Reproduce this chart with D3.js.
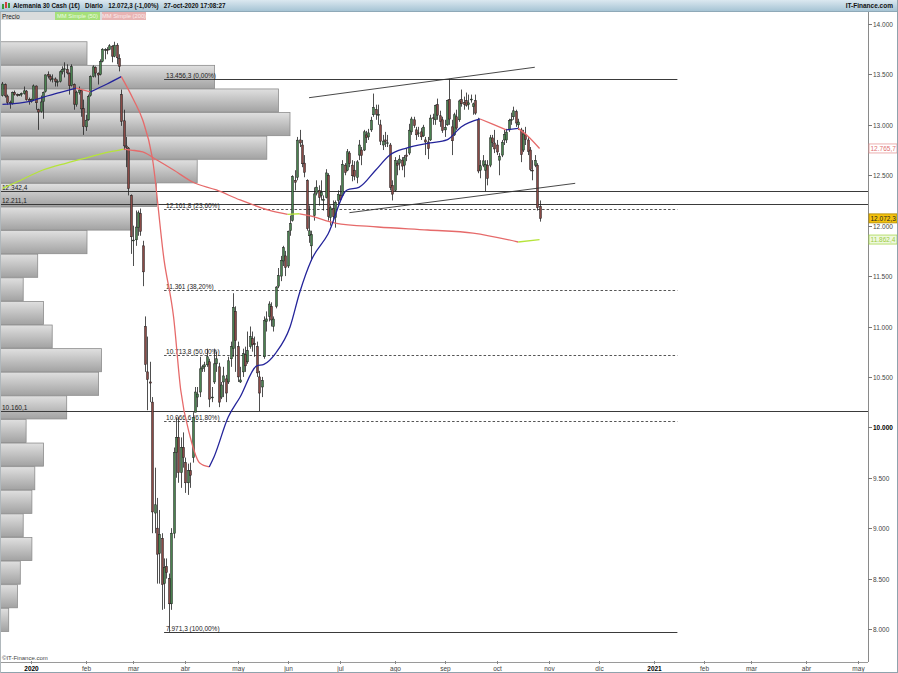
<!DOCTYPE html>
<html><head><meta charset="utf-8">
<script src="https://cdn.jsdelivr.net/npm/d3@7"></script>
<style>body{margin:0;background:#fff}svg{display:block}text{font-family:"Liberation Sans",Arial,sans-serif}</style>
</head><body><svg id="c" width="898" height="673"></svg>
<script>
// ---------- DATA ----------
const title = "Alemania 30 Cash (1€)   Diario   12.072,3 (-1,00%)   27-oct-2020 17:08:27";
const candles = [
["2019-12-16",13290,13425,13280,13405],["2019-12-17",13400,13410,13270,13287],["2019-12-18",13285,13300,13200,13222],
["2019-12-19",13220,13240,13160,13211],["2019-12-20",13215,13330,13200,13319],["2019-12-23",13320,13340,13290,13300],
["2019-12-24",13300,13310,13280,13295],["2019-12-25",13295,13305,13285,13300],["2019-12-26",13300,13320,13280,13310],
["2019-12-27",13310,13380,13300,13337],["2019-12-30",13335,13345,13240,13249],["2019-12-31",13250,13270,13200,13230],
["2020-01-01",13230,13260,13220,13250],["2020-01-02",13250,13400,13240,13386],["2020-01-03",13385,13390,13150,13219],
["2020-01-06",13150,13160,12950,13127],["2020-01-07",13130,13290,13120,13227],["2020-01-08",13230,13330,13060,13321],
["2020-01-09",13330,13500,13320,13495],["2020-01-10",13500,13530,13460,13483],["2020-01-13",13480,13500,13430,13452],
["2020-01-14",13450,13500,13420,13457],["2020-01-15",13455,13470,13380,13432],["2020-01-16",13430,13450,13380,13430],
["2020-01-17",13430,13540,13420,13526],["2020-01-20",13525,13580,13500,13549],["2020-01-21",13550,13620,13470,13556],
["2020-01-22",13550,13600,13500,13515],["2020-01-23",13510,13520,13300,13389],["2020-01-24",13390,13600,13380,13577],
["2020-01-27",13400,13410,13150,13205],["2020-01-28",13200,13340,13180,13324],["2020-01-29",13320,13380,13300,13345],
["2020-01-30",13340,13350,13080,13158],["2020-01-31",13160,13250,12900,12982],["2020-02-03",12980,13100,12940,13046],
["2020-02-04",13050,13300,13040,13282],["2020-02-05",13290,13490,13280,13479],["2020-02-06",13480,13590,13470,13575],
["2020-02-07",13570,13580,13470,13514],["2020-02-10",13510,13520,13400,13494],["2020-02-11",13500,13650,13490,13628],
["2020-02-12",13630,13760,13620,13750],["2020-02-13",13740,13760,13650,13745],["2020-02-14",13745,13770,13700,13744],
["2020-02-17",13745,13800,13740,13784],["2020-02-18",13780,13790,13620,13681],["2020-02-19",13680,13824,13670,13790],
["2020-02-20",13790,13810,13600,13665],["2020-02-21",13660,13700,13530,13579],["2020-02-24",13300,13350,12990,13035],
["2020-02-25",13040,13150,12750,12791],["2020-02-26",12790,12880,12580,12775],["2020-02-27",12770,12780,12300,12367],
["2020-02-28",12300,12310,11720,11890],["2020-03-02",11850,12000,11600,11857],["2020-03-03",11860,12150,11800,11986],
["2020-03-04",11980,12150,11900,12128],["2020-03-05",12120,12170,11900,11944],["2020-03-06",11800,11850,11400,11542],
["2020-03-09",11000,11100,10550,10625],["2020-03-10",10550,10900,10170,10475],["2020-03-11",10450,10650,10250,10439],
["2020-03-12",10250,10300,8950,9161],["2020-03-13",9150,9600,8950,9232],["2020-03-16",9000,9300,8450,8742],
["2020-03-17",8750,9180,8450,8939],["2020-03-18",8900,8950,8190,8441],["2020-03-19",8450,8700,8200,8610],
["2020-03-20",8620,8700,8500,8560],["2020-03-23",8500,8550,7971.3,8250],["2020-03-24",8250,9000,8190,8950],
["2020-03-25",8950,9800,8900,9750],["2020-03-26",9750,10100,9500,9900],["2020-03-27",9900,10100,9450,9550],
["2020-03-30",9550,9900,9400,9800],["2020-03-31",9800,9950,9600,9700],["2020-04-01",9650,9700,9350,9450],
["2020-04-02",9450,9640,9330,9570],["2020-04-03",9570,9650,9400,9525],["2020-04-06",9700,10150,9650,10100],
["2020-04-07",10150,10400,10150,10350],["2020-04-08",10300,10400,10200,10330],["2020-04-09",10350,10700,10300,10580],
["2020-04-10",10580,10620,10550,10600],["2020-04-13",10600,10650,10550,10620],["2020-04-14",10620,10780,10600,10700],
["2020-04-15",10650,10680,10200,10280],["2020-04-16",10300,10400,10250,10300],["2020-04-17",10450,10780,10430,10630],
["2020-04-20",10630,10750,10550,10680],["2020-04-21",10600,10640,10200,10250],["2020-04-22",10300,10450,10280,10420],
["2020-04-23",10450,10600,10300,10510],["2020-04-24",10480,10520,10250,10340],["2020-04-27",10450,10700,10430,10660],
["2020-04-28",10680,10850,10600,10800],["2020-04-29",10780,11330,10700,11190],["2020-04-30",11150,11200,10550,10860],
["2020-05-01",10800,10850,10450,10500],["2020-05-04",10450,10600,10440,10470],["2020-05-05",10550,10780,10500,10730],
["2020-05-06",10720,10800,10550,10610],["2020-05-07",10650,10950,10630,10760],["2020-05-08",10800,11000,10780,10900],
["2020-05-11",10880,10950,10750,10820],["2020-05-12",10830,10900,10700,10820],["2020-05-13",10800,10850,10500,10540],
["2020-05-14",10500,10560,10160.1,10340],["2020-05-15",10400,10500,10300,10465],["2020-05-18",10700,11100,10680,11058],
["2020-05-19",11050,11150,10950,11075],["2020-05-20",11100,11250,11050,11223],["2020-05-21",11200,11240,11000,11065],
["2020-05-22",11000,11100,10950,11074],["2020-05-25",11200,11400,11180,11391],["2020-05-26",11400,11580,11380,11504],
["2020-05-27",11500,11700,11450,11657],["2020-05-28",11650,11800,11600,11781],["2020-05-29",11700,11750,11500,11587],
["2020-06-01",11600,11950,11580,11945],["2020-06-02",11950,12100,11900,12021],["2020-06-03",12050,12500,12040,12487],
["2020-06-04",12450,12550,12350,12431],["2020-06-05",12480,12880,12450,12848],["2020-06-08",12850,12950,12780,12820],
["2020-06-09",12800,12850,12580,12614],["2020-06-10",12620,12700,12480,12530],["2020-06-11",12450,12460,11950,11970],
["2020-06-12",11900,12200,11830,11949],["2020-06-15",11800,11950,11650,11911],["2020-06-16",12100,12380,12050,12315],
["2020-06-17",12320,12450,12300,12382],["2020-06-18",12350,12400,12200,12281],["2020-06-19",12300,12450,12250,12331],
["2020-06-22",12250,12300,12150,12262],["2020-06-23",12280,12560,12270,12523],["2020-06-24",12500,12520,12050,12093],
["2020-06-25",12080,12200,12000,12177],["2020-06-26",12170,12250,12050,12089],["2020-06-29",12080,12250,11980,12232],
["2020-06-30",12250,12350,12200,12311],["2020-07-01",12300,12400,12250,12260],["2020-07-02",12300,12650,12290,12608],
["2020-07-03",12600,12620,12500,12528],["2020-07-06",12550,12760,12540,12733],["2020-07-07",12720,12740,12580,12616],
["2020-07-08",12600,12650,12440,12495],["2020-07-09",12550,12640,12450,12489],["2020-07-10",12480,12650,12420,12633],
["2020-07-13",12700,12850,12650,12800],["2020-07-14",12750,12780,12600,12697],["2020-07-15",12750,12950,12740,12931],
["2020-07-16",12900,12940,12820,12874],["2020-07-17",12880,12960,12850,12920],["2020-07-20",12950,13080,12930,13046],
["2020-07-21",13100,13310,13080,13171],["2020-07-22",13150,13200,13050,13104],["2020-07-23",13100,13200,13000,13103],
["2020-07-24",13000,13050,12800,12838],["2020-07-27",12800,12900,12750,12839],["2020-07-28",12850,12930,12780,12836],
["2020-07-29",12820,12900,12780,12822],["2020-07-30",12800,12820,12350,12379],["2020-07-31",12400,12450,12250,12313],
["2020-08-03",12350,12680,12340,12647],["2020-08-04",12620,12650,12500,12600],["2020-08-05",12620,12700,12550,12660],
["2020-08-06",12650,12680,12550,12591],["2020-08-07",12600,12700,12480,12674],["2020-08-10",12700,12770,12640,12687],
["2020-08-11",12720,13010,12700,12947],["2020-08-12",12930,13080,12900,13058],["2020-08-13",13050,13080,12970,12993],
["2020-08-14",12950,12980,12850,12901],["2020-08-17",12920,12980,12880,12920],["2020-08-18",12930,12970,12850,12881],
["2020-08-19",12890,13000,12880,12977],["2020-08-20",12850,12880,12700,12830],["2020-08-21",12830,12880,12660,12764],
["2020-08-24",12850,13100,12840,13067],["2020-08-25",13070,13110,13000,13062],["2020-08-26",13050,13200,13000,13190],
["2020-08-27",13200,13260,13050,13096],["2020-08-28",13090,13140,12980,13033],["2020-08-31",13050,13080,12920,12945],
["2020-09-01",12950,13050,12880,12974],["2020-09-02",13000,13250,12990,13243],["2020-09-03",13250,13456.3,13000,13057],
["2020-09-04",12980,13050,12700,12842],["2020-09-07",12900,13120,12890,13100],["2020-09-08",13080,13150,12950,12968],
["2020-09-09",13050,13250,13030,13237],["2020-09-10",13250,13350,13180,13209],["2020-09-11",13220,13280,13150,13202],
["2020-09-14",13240,13320,13180,13194],["2020-09-15",13200,13300,13150,13218],["2020-09-16",13250,13300,13220,13255],
["2020-09-17",13180,13220,13100,13208],["2020-09-18",13240,13300,13100,13116],["2020-09-21",13050,13070,12520,12542],
["2020-09-22",12550,12650,12470,12594],["2020-09-23",12600,12700,12580,12643],["2020-09-24",12550,12650,12340,12606],
["2020-09-25",12600,12650,12400,12469],["2020-09-28",12600,12900,12580,12871],["2020-09-29",12870,12900,12780,12826],
["2020-09-30",12820,12950,12720,12761],["2020-10-01",12800,12850,12700,12731],["2020-10-02",12650,12720,12500,12689],
["2020-10-05",12700,12850,12680,12828],["2020-10-06",12850,12950,12800,12906],["2020-10-07",12850,12960,12820,12928],
["2020-10-08",12950,13060,12930,13042],["2020-10-09",13050,13120,13000,13051],["2020-10-12",13080,13180,13050,13139],
["2020-10-13",13130,13150,12980,13018],["2020-10-14",13000,13060,12950,13028],["2020-10-15",12950,12970,12630,12704],
["2020-10-16",12750,12950,12730,12909],["2020-10-19",12900,12980,12800,12854],["2020-10-20",12850,12880,12700,12736],
["2020-10-21",12750,12780,12540,12558],["2020-10-22",12550,12650,12450,12543],["2020-10-23",12600,12700,12580,12646],
["2020-10-26",12600,12620,12150,12178],["2020-10-27",12190,12250,12040,12072.3]
];
// moving average readings (date, value)
const ma50 = [["2019-12-16",13202],["2020-01-01",13236],["2020-01-07",13266],["2020-01-17",13320],["2020-01-28",13365],
["2020-02-05",13326],["2020-02-14",13405],["2020-02-24",13478],["2020-03-02",13256],["2020-03-06",13048],["2020-03-12",12681],
["2020-03-19",11659],["2020-03-25",11094],["2020-03-30",10370],["2020-04-03",9904],["2020-04-09",9646],["2020-04-15",9607],
["2020-04-17",9706],["2020-04-27",10102],["2020-05-04",10301],["2020-05-13",10610],["2020-05-18",10625],["2020-05-25",10737],
["2020-06-02",10995],["2020-06-08",11332],["2020-06-15",11659],["2020-06-24",11917],["2020-07-06",12354],["2020-07-13",12380],
["2020-07-22",12550],["2020-07-30",12701],["2020-08-10",12770],["2020-08-24",12820],["2020-09-02",12850],["2020-09-10",12979],
["2020-09-22",13058],["2020-09-29",13010],["2020-10-07",12950],["2020-10-14",12965],["2020-10-20",12890],["2020-10-27",12765.7]];
const ma200 = [["2019-12-16",12370],["2019-12-24",12433],["2020-01-08",12552],["2020-01-22",12621],["2020-02-03",12671],
["2020-02-17",12731],["2020-02-25",12760],["2020-02-28",12750],["2020-03-06",12731],["2020-03-16",12651],["2020-03-25",12552],
["2020-04-06",12433],["2020-04-20",12354],["2020-05-04",12255],["2020-05-20",12155],["2020-06-01",12112],["2020-06-08",12118],
["2020-06-12",12100],["2020-06-29",12026],["2020-07-23",11987],["2020-08-21",11957],["2020-09-17",11927],["2020-10-14",11838],
["2020-10-27",11862.4]];
// volume profile, relative volume per price band (top band first)
const profile = [30,74,96,100,92,68,54,45,30,13,8,15,18,35,34,23,9,15,12,11,8,11,7,6,3];
// Fibonacci retracement
const fibHigh = 13456.3, fibLow = 7971.3;
const fibRatios = [0, 0.236, 0.382, 0.5, 0.618, 1];
const fibSpan = ["2020-03-19","2021-01-15"];
// horizontal support/resistance levels
const hLevels = [12342.4, 12211.1, 10160.1];
// trend lines
const trendLines = [[["2020-06-12",13269],["2020-10-23",13571]],[["2020-07-07",12129],["2020-11-17",12420]]];
const priceTicks = [8000,8500,9000,9500,10000,10500,11000,11500,12000,12500,13000,13500,14000];
const monthTicks = [["2020-01-01","2020"],["2020-02-03","feb"],["2020-03-02","mar"],["2020-04-01","abr"],["2020-05-01","may"],
["2020-06-01","jun"],["2020-07-01","jul"],["2020-08-03","ago"],["2020-09-01","sep"],["2020-10-01","oct"],["2020-11-02","nov"],
["2020-12-01","dic"],["2021-01-01","2021"],["2021-02-01","feb"],["2021-03-01","mar"],["2021-04-01","abr"],["2021-05-03","may"]];

// ---------- HELPERS ----------
const loc = d3.formatLocale({decimal:",",thousands:".",grouping:[3],currency:["","€"]});
const f1 = loc.format(",.1f"), f0 = loc.format(",d");
const fmtFib = v => { const s=f1(v); return s.endsWith(",0")?s.slice(0,-2):s; };
const base = Date.UTC(2020,0,1); // Wednesday
function wd(s){
  const [Y,M,D]=s.split("-").map(Number);
  const days=Math.round((Date.UTC(Y,M-1,D)-base)/864e5);
  let n=0;
  if(days>=0){for(let i=0;i<days;i++){const w=(3+i)%7;if(w!==0&&w!==6)n++;}}
  else{for(let i=-1;i>=days;i--){const w=((3+i)%7+7)%7;if(w!==0&&w!==6)n--;}}
  return n;
}
const svg = d3.select("#c");
const P = {l:0, r:868, t:20, b:662};
const x = d3.scaleLinear().domain([wd("2020-01-01"), wd("2021-05-03")]).range([31,858]);
const y = d3.scaleLinear().domain([8000,14000]).range([629,24]);
const X = s => x(wd(s));

const defs = svg.append("defs");
defs.append("clipPath").attr("id","clip").append("rect").attr("x",P.l).attr("y",P.t).attr("width",P.r-P.l).attr("height",P.b-P.t);
const g1 = defs.append("linearGradient").attr("id","barG").attr("x1",0).attr("y1",0).attr("x2",0).attr("y2",1);
g1.append("stop").attr("offset","0%").attr("stop-color","#e0e0e0");
g1.append("stop").attr("offset","100%").attr("stop-color","#a2a2a2");
const g2 = defs.append("linearGradient").attr("id","hdrG").attr("x1",0).attr("y1",0).attr("x2",0).attr("y2",1);
g2.append("stop").attr("offset","0%").attr("stop-color","#dbe8f0");
g2.append("stop").attr("offset","100%").attr("stop-color","#a6c4d4");

// ---------- HEADER ----------
svg.append("rect").attr("x",0).attr("y",0).attr("width",898).attr("height",11).attr("fill","url(#hdrG)");
svg.append("line").attr("x1",0).attr("x2",898).attr("y1",11.5).attr("y2",11.5).attr("stroke","#8fa9b8");
svg.append("rect").attr("x",2).attr("y",4).attr("width",2).attr("height",5).attr("fill","#3a9a3a");
svg.append("rect").attr("x",5).attr("y",2).attr("width",2).attr("height",6).attr("fill","#d04040");
svg.append("rect").attr("x",8).attr("y",3).attr("width",2).attr("height",5).attr("fill","#3a9a3a");
svg.append("text").attr("x",13).attr("y",8.3).attr("font-size",6.3).attr("font-weight","bold").attr("fill","#111").attr("xml:space","preserve").text(title);
svg.append("text").attr("x",893).attr("y",8.3).attr("text-anchor","end").attr("font-size",6.5).attr("font-weight","bold").attr("fill","#111").text("IT-Finance.com");
// legend row
svg.append("rect").attr("x",0).attr("y",12).attr("width",146).attr("height",8).attr("fill","#d9dcdc");
svg.append("text").attr("x",2).attr("y",18.5).attr("font-size",6.3).attr("fill","#222").text("Precio");
svg.append("rect").attr("x",55).attr("y",12).attr("width",45).attr("height",8).attr("fill","#a6e07a");
svg.append("text").attr("x",77.5).attr("y",18.3).attr("text-anchor","middle").attr("font-size",5.8).attr("fill","#eafbe0").text("MM Simple (50)");
svg.append("rect").attr("x",102).attr("y",12).attr("width",44).attr("height",8).attr("fill","#e8b4b4");
svg.append("text").attr("x",124).attr("y",18.3).attr("text-anchor","middle").attr("font-size",5.8).attr("fill","#fbecec").text("MM Simple (200)");

// ---------- PLOT ----------
const plot = svg.append("g").attr("clip-path","url(#clip)");
const lo = d3.min(candles,d=>d[3]), hi = d3.max(candles,d=>d[2]);
const band = (hi-lo)/profile.length;
const px = d3.scaleLinear().domain([0,100]).range([0,290]);
plot.append("g").selectAll("rect").data(profile).join("rect")
  .attr("x",0).attr("y",(d,i)=>y(hi-i*band)).attr("width",d=>px(d))
  .attr("height",(d,i)=>y(hi-(i+1)*band)-y(hi-i*band)-0.5)
  .attr("fill","url(#barG)").attr("stroke","#8c8c8c").attr("stroke-width",0.8);

hLevels.forEach(v=>{
  plot.append("line").attr("x1",0).attr("x2",P.r).attr("y1",Math.round(y(v))+0.5).attr("y2",Math.round(y(v))+0.5).attr("stroke","#3a3a3a").attr("stroke-width",1);
  plot.append("text").attr("x",2).attr("y",Math.round(y(v))-1.5).attr("font-size",6.5).attr("fill","#222").text(f1(v));
});
fibRatios.forEach(r=>{
  const v = fibHigh - r*(fibHigh-fibLow);
  const yy = Math.round(y(v))+0.5;
  const solid = (r===0||r===1);
  plot.append("line").attr("x1",X(fibSpan[0])).attr("x2",X(fibSpan[1])).attr("y1",yy).attr("y2",yy)
    .attr("stroke",solid?"#3a3a3a":"#555").attr("stroke-width",1).attr("stroke-dasharray",solid?null:"2.5,2");
  plot.append("text").attr("x",X(fibSpan[0])+2).attr("y",yy-2).attr("font-size",6.5).attr("fill","#222")
    .text(fmtFib(v)+" ("+loc.format(".2f")(r*100)+"%)");
});

const cg = plot.append("g");
candles.forEach(d=>{
  const cx = Math.round(X(d[0]))+0.5;
  const up = d[4]>=d[1];
  cg.append("line").attr("x1",cx).attr("x2",cx).attr("y1",y(d[2])).attr("y2",y(d[3])).attr("stroke","#222").attr("stroke-width",0.8);
  const top=y(Math.max(d[1],d[4])), bot=y(Math.min(d[1],d[4]));
  cg.append("rect").attr("x",cx-1).attr("y",top).attr("width",2).attr("height",Math.max(0.8,bot-top))
    .attr("fill",up?"#4a8250":"#8a4a46").attr("stroke","#1e1e1e").attr("stroke-width",0.5);
});

function maLine(data, upC, downC){
  const pts = data.map(d=>[X(d[0]), y(d[1]), d[1]]);
  const runs=[]; let cur=[pts[0]], dir=null;
  for(let i=1;i<pts.length;i++){
    const dd = pts[i][2]>=pts[i-1][2]?1:-1;
    if(dir===null) dir=dd;
    if(dd!==dir){ runs.push({dir,pts:cur}); cur=[pts[i-1]]; dir=dd; }
    cur.push(pts[i]);
  }
  runs.push({dir,pts:cur});
  const ln = d3.line().x(p=>p[0]).y(p=>p[1]).curve(d3.curveMonotoneX);
  runs.forEach(r=>plot.append("path").attr("d",ln(r.pts)).attr("fill","none")
    .attr("stroke",r.dir>0?upC:downC).attr("stroke-width",1.3));
}
maLine(ma200,"#b6e43a","#e66a6a");
maLine(ma50,"#24249a","#e66a6a");

trendLines.forEach(t=>{
  plot.append("line").attr("x1",X(t[0][0])).attr("y1",y(t[0][1])).attr("x2",X(t[1][0])).attr("y2",y(t[1][1]))
    .attr("stroke","#333").attr("stroke-width",0.9);
});

// ---------- AXES ----------
const ra = svg.append("g");
ra.append("line").attr("x1",P.r+0.5).attr("x2",P.r+0.5).attr("y1",12).attr("y2",P.b).attr("stroke","#8a8a8a");
priceTicks.forEach(v=>{
  const yy=Math.round(y(v))+0.5;
  ra.append("line").attr("x1",P.r).attr("x2",P.r+4).attr("y1",yy).attr("y2",yy).attr("stroke","#777");
  ra.append("text").attr("x",P.r+5).attr("y",yy+2.3).attr("font-size",6.5)
    .attr("font-weight",v===10000?"bold":"normal").attr("fill",v===10000?"#000":"#444").text(f0(v));
});
function tag(v, fill, stroke, color){
  const yy=y(v);
  ra.append("rect").attr("x",P.r+1).attr("y",yy-4.5).attr("width",28).attr("height",9).attr("fill",fill).attr("stroke",stroke).attr("stroke-width",0.8);
  ra.append("text").attr("x",P.r+2.5).attr("y",yy+2.3).attr("font-size",6.5).attr("fill",color).text(f1(v));
}
tag(ma50[ma50.length-1][1],"#fff","#e69a9a","#e07070");
tag(ma200[ma200.length-1][1],"#eef8de","#a8d850","#9ccc40");
tag(candles[candles.length-1][4],"#f4c20d","#b08800","#222");

const ba = svg.append("g");
ba.append("line").attr("x1",0).attr("x2",P.r).attr("y1",P.b+0.5).attr("y2",P.b+0.5).attr("stroke","#9a9a9a");
monthTicks.forEach(m=>{
  const xx=Math.round(X(m[0]))+0.5;
  ba.append("line").attr("x1",xx).attr("x2",xx).attr("y1",P.b-1).attr("y2",P.b+2).attr("stroke","#888");
  const bold = /^\d{4}$/.test(m[1]);
  ba.append("text").attr("x",xx).attr("y",671).attr("text-anchor","middle").attr("font-size",6.5)
    .attr("font-weight",bold?"bold":"normal").attr("fill",bold?"#000":"#444").text(m[1]);
});
svg.append("text").attr("x",2).attr("y",660).attr("font-size",6).attr("fill","#444").text("©IT-Finance.com");
svg.append("line").attr("x1",897.5).attr("x2",897.5).attr("y1",0).attr("y2",673).attr("stroke","#8fa3ad");
svg.append("line").attr("x1",0).attr("x2",898).attr("y1",672.5).attr("y2",672.5).attr("stroke","#8fa3ad");
svg.append("line").attr("x1",0.5).attr("x2",0.5).attr("y1",12).attr("y2",673).attr("stroke","#b0b8bc");
</script></body></html>
